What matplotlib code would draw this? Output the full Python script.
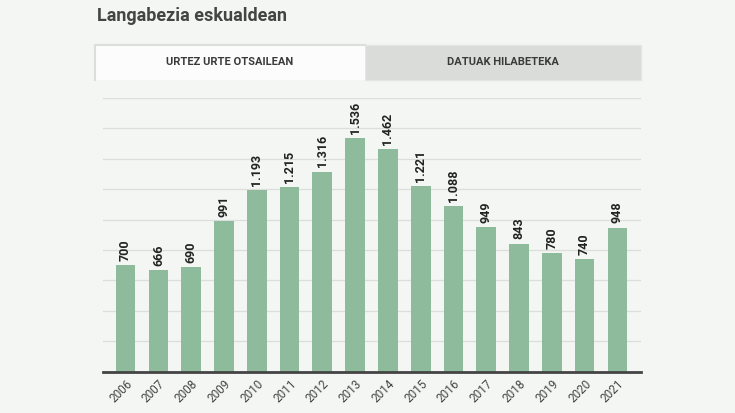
import matplotlib.pyplot as plt
from matplotlib.patches import Rectangle
from matplotlib.lines import Line2D

plt.rcParams['font.family'] = ['Roboto', 'DejaVu Sans']

years = ['2006', '2007', '2008', '2009', '2010', '2011', '2012', '2013',
         '2014', '2015', '2016', '2017', '2018', '2019', '2020', '2021']
unemployed = [700, 666, 690, 991, 1193, 1215, 1316, 1536,
              1462, 1221, 1088, 949, 843, 780, 740, 948]
tab_labels = ['URTEZ URTE OTSAILEAN', 'DATUAK HILABETEKA']
title = 'Langabezia eskualdean'

bg = '#f4f6f4'
bar_color = '#8dbb9b'

W, H = 735, 413
fig = plt.figure(figsize=(W / 100, H / 100), dpi=100, facecolor=bg)


def fx(px):
    return px / W


def fy(py):
    return 1 - py / H


# title
fig.text(fx(97), fy(16), title, fontsize=13, fontweight='bold',
         color='#444444', ha='left', va='center')

# tabs: grey one on the right, open white one on the left
grey_tab = Rectangle((fx(365), fy(80)), fx(641) - fx(365), fy(45) - fy(80),
                     transform=fig.transFigure, facecolor='#dadcd9',
                     edgecolor='#e4e6e3', linewidth=1)
white_tab = Rectangle((fx(95), fy(80)), fx(365) - fx(95), fy(45) - fy(80),
                      transform=fig.transFigure, facecolor='#fbfcfb',
                      edgecolor='none')
fig.patches.extend([grey_tab, white_tab])
border = dict(transform=fig.transFigure, color='#dcdedb', linewidth=1.5)
fig.lines.append(Line2D([fx(95), fx(95), fx(365)], [fy(80), fy(45), fy(45)], **border))
fig.text(fx(230), fy(62), tab_labels[0], fontsize=8, fontweight='bold',
         color='#3a3a3a', ha='center', va='center')
fig.text(fx(503), fy(62), tab_labels[1], fontsize=8, fontweight='bold',
         color='#3a3a3a', ha='center', va='center')

ax = fig.add_axes([fx(103), fy(371.7), fx(641) - fx(103), fy(98) - fy(371.7)])
ax.set_facecolor(bg)

x = list(range(len(years)))
ax.bar(x, unemployed, width=0.6, color=bar_color, zorder=2)

for xi, v in zip(x, unemployed):
    label = f'{v:,}'.replace(',', '.')
    ax.annotate(label, (xi, v), xytext=(0, 3), textcoords='offset points',
                rotation=90, ha='center', va='bottom', fontsize=9,
                fontweight='bold', color='#222222')

ax.set_ylim(0, 1800)
ax.set_xlim(-0.69, 15.72)
ax.set_yticks(range(0, 1801, 200))
ax.yaxis.grid(True, color='#dcdedb', linewidth=0.9, zorder=0)
ax.set_axisbelow(True)
ax.tick_params(axis='y', left=False, labelleft=False)
ax.tick_params(axis='x', length=0, pad=4)
ax.set_xticks(x)
ax.set_xticklabels(years, rotation=45, ha='right', rotation_mode='anchor',
                   fontsize=8.5, color='#444444')

for s in ['top', 'left', 'right']:
    ax.spines[s].set_visible(False)
ax.spines['bottom'].set_color('#444444')
ax.spines['bottom'].set_linewidth(2)

fig.savefig('out.png', dpi=100, facecolor=bg)
